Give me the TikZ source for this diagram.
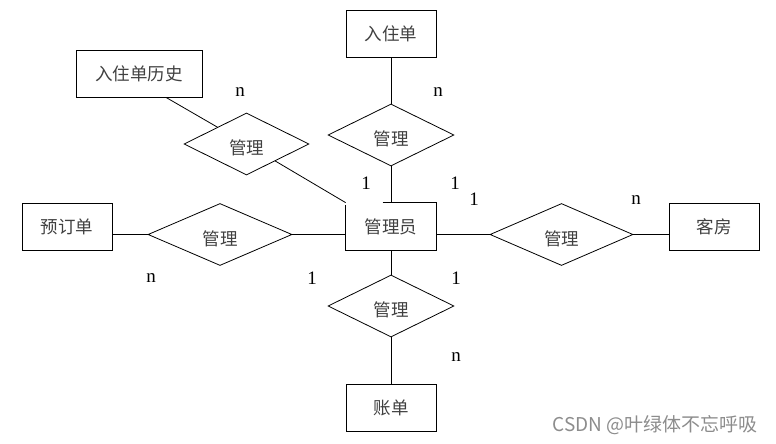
\documentclass[tikz,border=0pt]{standalone}
\usepackage{fontspec}
\setmainfont{Liberation Serif}
\newfontfamily\cjk{Noto Sans CJK SC}
\usetikzlibrary{shapes.geometric,calc}
\begin{document}
\begin{tikzpicture}[x=1pt,y=-1pt,
  line width=0.8pt,
  cjkfont/.style={font=\cjk\fontsize{17.5}{19}\selectfont,text=black!75},
  entity/.style={draw,rectangle,minimum width=90pt,minimum height=47pt,inner sep=0pt,cjkfont},
  rel/.style={draw,diamond,minimum width=126pt,minimum height=62pt,inner sep=0pt,
    label={[cjkfont,inner sep=0pt,yshift=-4pt]center:管理}},
  card/.style={inner sep=0pt,font=\fontsize{19}{21}\selectfont},
  wm/.style={inner sep=0pt,font=\cjk\fontsize{19}{21}\selectfont,text=black!45}]
\path[use as bounding box] (0,0) rectangle (776,444);

% entities
\node[entity] (ruzhu) at (391,33.5) {入住单};
\node[entity,minimum width=126pt] (hist) at (139,73.5) {入住单历史};
\node[entity,draw=none] (admin) at (391,226.5) {管理员};
\node[entity] (yuding) at (67,226.5) {预订单};
\node[entity] (kefang) at (714,226.5) {客房};
\node[entity] (zhangdan) at (391,408) {账单};
\draw ([xshift=37pt]admin.north west) -- (admin.north east) -- (admin.south east)
  -- (admin.south west) -- ([yshift=-2pt]admin.north west);

% relationships
\node[rel] (dtop) at (391,135) {};
\node[rel,minimum width=125pt] (dhist) at (246.5,144) {};
\node[rel,minimum width=144pt] (dleft) at (220,234.5) {};
\node[rel,minimum width=143pt] (dright) at (561.5,234.5) {};
\node[rel] (dbot) at (391,306) {};

% connectors
\draw (ruzhu) -- (dtop);
\draw (dtop) -- (admin);
\draw ([xshift=27pt]hist.south) -- (dhist);
\draw (dhist) -- (admin.north west);
\draw (dleft.west -| yuding.east) -- (dleft.west);
\draw (dleft.east) -- (dleft.east -| admin.west);
\draw (dright.west -| admin.east) -- (dright.west);
\draw (dright.east) -- (dright.east -| kefang.west);
\draw (admin) -- (dbot);
\draw (dbot) -- (zhangdan);

% cardinalities
\node[card] (c1) at (240,92) {n};
\node[card] (c2) at (438,92) {n};
\node[card] (c3) at (366,183) {1};
\node[card] (c4) at (455,183) {1};
\node[card] (c5) at (474,199) {1};
\node[card] (c6) at (636,200) {n};
\node[card] (c7) at (151,278) {n};
\node[card] (c8) at (312,278) {1};
\node[card] (c9) at (456,278) {1};
\node[card] (c10) at (456,357) {n};

% watermark
\node[wm] (wmark) at (655,425) {CSDN @叶绿体不忘呼吸};
\end{tikzpicture}
\end{document}
